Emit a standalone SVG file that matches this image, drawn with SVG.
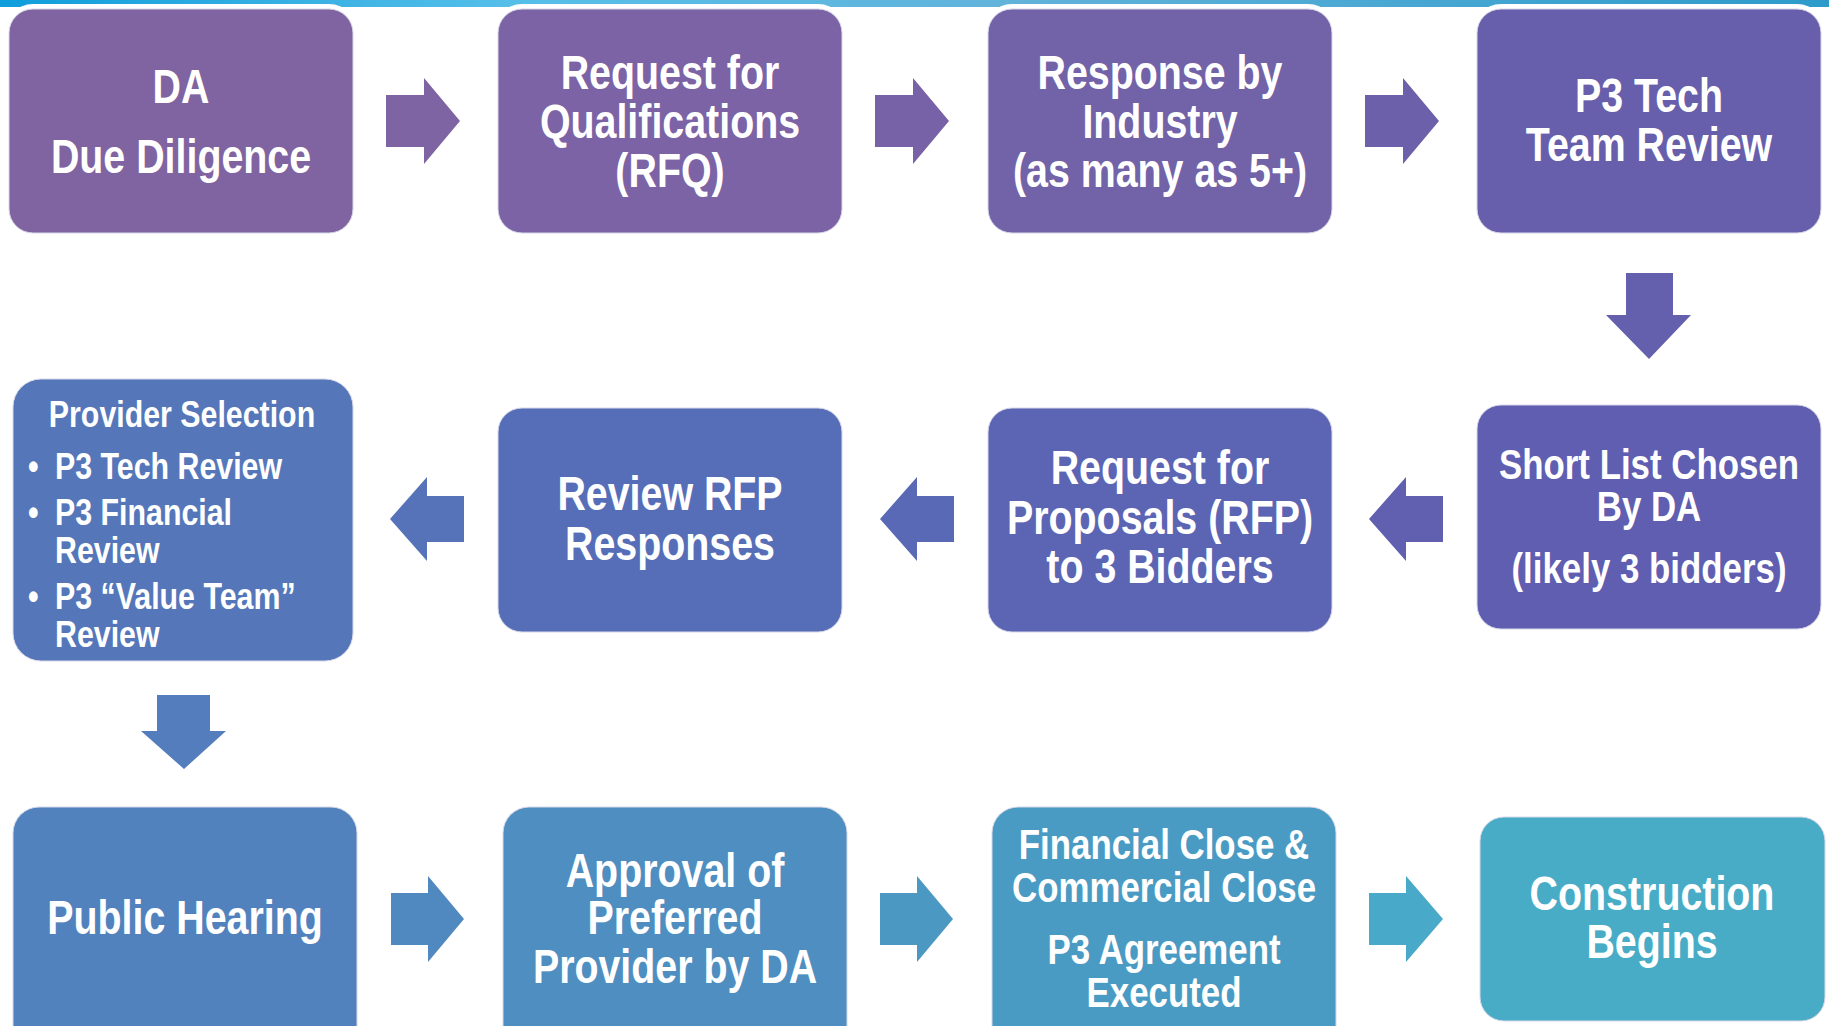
<svg xmlns="http://www.w3.org/2000/svg" width="1829" height="1026" viewBox="0 0 1829 1026">
<defs>
<linearGradient id="bar" x1="0" y1="0" x2="1" y2="0">
<stop offset="0" stop-color="#0f9ddb"/>
<stop offset="0.28" stop-color="#55bfe9"/>
<stop offset="0.55" stop-color="#62b3da"/>
<stop offset="1" stop-color="#2d9bca"/>
</linearGradient>
<style>
.box{stroke:#d8d8e8;stroke-width:1}
.halo{fill:#ffffff}
.t{font-family:"Liberation Sans",Arial,sans-serif;font-weight:bold;fill:#ffffff;text-anchor:middle}
.s48{font-size:48px}
.s43{font-size:42.5px}
.s37{font-size:37px}
.l{text-anchor:start}
</style>
</defs>
<rect x="0" y="0" width="1829" height="1026" fill="#ffffff"/>
<rect x="0" y="0" width="1829" height="7" fill="url(#bar)"/>

<g id="connectors">
<path d="M386 95 H424 V78 L460 121 L424 164 V147 H386 Z" fill="#7e64a2"/>
<path d="M875 95 H913 V78 L949 121 L913 164 V147 H875 Z" fill="#7762a7"/>
<path d="M1365 95 H1403 V78 L1439 121 L1403 164 V147 H1365 Z" fill="#6c60aa"/>
<path d="M1626 273 H1673 V315 H1691 L1649 359 L1606 315 H1626 Z" fill="#6460ad"/>
<path d="M1443 496 H1406 V477 L1369 519 L1406 561 V542 H1443 Z" fill="#605fb0"/>
<path d="M954 496 H917 V477 L880 519 L917 561 V542 H954 Z" fill="#5a69b6"/>
<path d="M464 496 H427 V477 L390 519 L427 561 V542 H464 Z" fill="#5673b9"/>
<path d="M157 695 H210 V731 H226 L184 769 L141 731 H157 Z" fill="#537dbc"/>
<path d="M391 893 H428 V876 L464 919 L428 962 V945 H391 Z" fill="#5089c0"/>
<path d="M880 893 H917 V876 L953 919 L917 962 V945 H880 Z" fill="#4b98c3"/>
<path d="M1369 893 H1406 V876 L1443 919 L1406 962 V945 H1369 Z" fill="#48a9c8"/>
</g>

<g id="n1">
<rect class="halo" x="4" y="4" width="354" height="234" rx="29"/>
<rect class="box" x="9" y="9" width="344" height="224" rx="24" fill="#7f64a1"/>
<text class="t s48" transform="translate(181 103) scale(0.82 1)">DA</text>
<text class="t s48" transform="translate(181 173) scale(0.82 1)">Due Diligence</text>
</g>
<g id="n2">
<rect class="halo" x="493" y="4" width="354" height="234" rx="29"/>
<rect class="box" x="498" y="9" width="344" height="224" rx="24" fill="#7b63a5"/>
<text class="t s48" transform="translate(670 89) scale(0.82 1)">Request for</text>
<text class="t s48" transform="translate(670 138) scale(0.82 1)">Qualifications</text>
<text class="t s48" transform="translate(670 187) scale(0.82 1)">(RFQ)</text>
</g>
<g id="n3">
<rect class="halo" x="983" y="4" width="354" height="234" rx="29"/>
<rect class="box" x="988" y="9" width="344" height="224" rx="24" fill="#7262a8"/>
<text class="t s48" transform="translate(1160 89) scale(0.82 1)">Response by</text>
<text class="t s48" transform="translate(1160 138) scale(0.82 1)">Industry</text>
<text class="t s48" transform="translate(1160 187) scale(0.82 1)">(as many as 5+)</text>
</g>
<g id="n4">
<rect class="halo" x="1472" y="4" width="354" height="234" rx="29"/>
<rect class="box" x="1477" y="9" width="344" height="224" rx="24" fill="#675fac"/>
<text class="t s48" transform="translate(1649 112) scale(0.82 1)">P3 Tech</text>
<text class="t s48" transform="translate(1649 161) scale(0.82 1)">Team Review</text>
</g>
<g id="n5">
<rect class="box" x="1477" y="405" width="344" height="224" rx="24" fill="#5f5eb0"/>
<text class="t s43" transform="translate(1649 479) scale(0.82 1)">Short List Chosen</text>
<text class="t s43" transform="translate(1649 521) scale(0.82 1)">By DA</text>
<text class="t s43" transform="translate(1649 583) scale(0.82 1)">(likely 3 bidders)</text>
</g>
<g id="n6">
<rect class="box" x="988" y="408" width="344" height="224" rx="24" fill="#5b65b4"/>
<text class="t s48" transform="translate(1160 484) scale(0.82 1)">Request for</text>
<text class="t s48" transform="translate(1160 534) scale(0.82 1)">Proposals (RFP)</text>
<text class="t s48" transform="translate(1160 583) scale(0.82 1)">to 3 Bidders</text>
</g>
<g id="n7">
<rect class="box" x="498" y="408" width="344" height="224" rx="24" fill="#566eb8"/>
<text class="t s48" transform="translate(670 510) scale(0.82 1)">Review RFP</text>
<text class="t s48" transform="translate(670 560) scale(0.82 1)">Responses</text>
</g>
<g id="n8">
<rect class="box" x="13" y="379" width="340" height="282" rx="28" fill="#5577ba"/>
<text class="t s37" transform="translate(182 427) scale(0.82 1)">Provider Selection</text>
<text class="t s37 l" transform="translate(28 479) scale(0.82 1)">•</text>
<text class="t s37 l" transform="translate(55 479) scale(0.82 1)">P3 Tech Review</text>
<text class="t s37 l" transform="translate(28 525) scale(0.82 1)">•</text>
<text class="t s37 l" transform="translate(55 525) scale(0.82 1)">P3 Financial</text>
<text class="t s37 l" transform="translate(55 563) scale(0.82 1)">Review</text>
<text class="t s37 l" transform="translate(28 609) scale(0.82 1)">•</text>
<text class="t s37 l" transform="translate(55 609) scale(0.82 1)">P3 “Value Team”</text>
<text class="t s37 l" transform="translate(55 647) scale(0.82 1)">Review</text>
</g>
<g id="n9">
<rect class="box" x="13" y="807" width="344" height="250" rx="26" fill="#5282be"/>
<text class="t s48" transform="translate(185 934) scale(0.82 1)">Public Hearing</text>
</g>
<g id="n10">
<rect class="box" x="503" y="807" width="344" height="250" rx="26" fill="#4e8ec0"/>
<text class="t s48" transform="translate(675 887) scale(0.82 1)">Approval of</text>
<text class="t s48" transform="translate(675 934) scale(0.82 1)">Preferred</text>
<text class="t s48" transform="translate(675 983) scale(0.82 1)">Provider by DA</text>
</g>
<g id="n11">
<rect class="box" x="992" y="807" width="344" height="250" rx="26" fill="#4a9bc3"/>
<text class="t s43" transform="translate(1164 859) scale(0.82 1)">Financial Close &amp;</text>
<text class="t s43" transform="translate(1164 902) scale(0.82 1)">Commercial Close</text>
<text class="t s43" transform="translate(1164 964) scale(0.82 1)">P3 Agreement</text>
<text class="t s43" transform="translate(1164 1007) scale(0.82 1)">Executed</text>
</g>
<g id="n12">
<rect class="box" x="1480" y="817" width="345" height="204" rx="24" fill="#48acc7"/>
<text class="t s48" transform="translate(1652 910) scale(0.82 1)">Construction</text>
<text class="t s48" transform="translate(1652 958) scale(0.82 1)">Begins</text>
</g>
</svg>
